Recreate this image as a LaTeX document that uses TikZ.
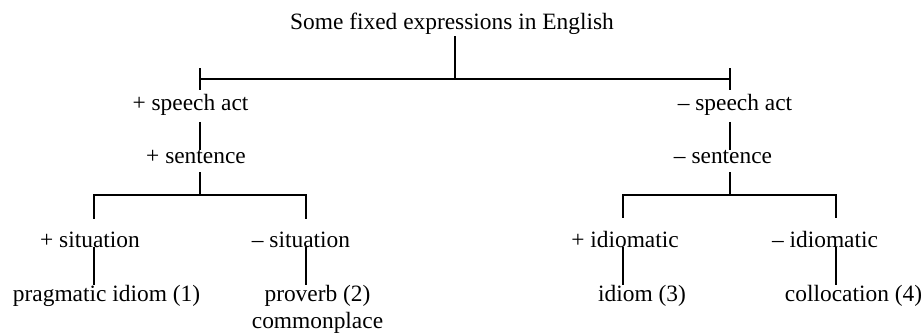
\documentclass[tikz,border=0pt]{standalone}
\usepackage{fontspec}
\setmainfont{Liberation Serif}
\tikzset{
  tree line/.style={draw=black,line width=1.4pt},
  tree label/.style={font=\fontsize{11.7}{13.5}\selectfont,inner sep=0pt,outer sep=0pt,anchor=base}
}
\begin{document}
\begin{tikzpicture}[x=0.5pt,y=-0.5pt]
  \useasboundingbox (0,0) rectangle (924,334);

  \node[tree label] (root) at (452,29) {Some fixed expressions in English};
  \node[tree label] (plusact) at (190.5,110) {+ speech act};
  \node[tree label] (minusact) at (735,110) {– speech act};
  \node[tree label] (plussent) at (196,163) {+ sentence};
  \node[tree label] (minussent) at (723,163) {– sentence};
  \node[tree label] (plussit) at (90,247) {+ situation};
  \node[tree label] (minussit) at (301,247) {– situation};
  \node[tree label] (plusidiom) at (625,247) {+ idiomatic};
  \node[tree label] (minusidiom) at (825,247) {– idiomatic};
  \node[tree label] (pragidiom) at (106.5,301) {pragmatic idiom (1)};
  \node[tree label,anchor=north,align=center] (proverb) at (317.5,285) {proverb (2)\\commonplace};
  \node[tree label] (idiom) at (642,301) {idiom (3)};
  \node[tree label] (colloc) at (853.5,301) {collocation (4)};

  \coordinate (fork) at (455,79);
  \coordinate (forkL) at (200,79);
  \coordinate (forkR) at (730,79);
  \coordinate (tickL) at (200,68);
  \coordinate (tickR) at (730,68);
  \coordinate (splitL) at (200,195);
  \coordinate (splitR) at (730,195);
  \coordinate (legA) at (94,195);
  \coordinate (legB) at (306,195);
  \coordinate (legC) at (623,195);
  \coordinate (legD) at (836,195);

  \draw[tree line,shorten <=1pt] (root.south -| fork) -- (fork);
  \draw[tree line] (forkL) -- (forkR);
  \draw[tree line,shorten >=2pt] (tickL) -- (tickL |- plusact.north);
  \draw[tree line,shorten >=2pt] (tickR) -- (tickR |- minusact.north);
  \draw[tree line,shorten <=3.5pt] (forkL |- plusact.south) -- (forkL |- plussent.north);
  \draw[tree line,shorten <=3.5pt] (forkR |- minusact.south) -- (forkR |- minussent.north);
  \draw[tree line,shorten <=4.5pt] (splitL |- plussent.south) -- (splitL);
  \draw[tree line,shorten <=4.5pt] (splitR |- minussent.south) -- (splitR);
  \draw[tree line,shorten <=6.5pt,shorten >=6.5pt] (legA |- plussit.north) -- (legA) -- (legB) -- (legB |- minussit.north);
  \draw[tree line,shorten <=6.5pt,shorten >=6.5pt] (legC |- plusidiom.north) -- (legC) -- (legD) -- (legD |- minusidiom.north);
  \draw[tree line] (legA |- plussit.base) -- (legA |- pragidiom.north);
  \draw[tree line] (legB |- minussit.base) -- (legB |- proverb.north);
  \draw[tree line] (legC |- plusidiom.base) -- (legC |- idiom.north);
  \draw[tree line] (legD |- minusidiom.base) -- (legD |- colloc.north);
\end{tikzpicture}
\end{document}
